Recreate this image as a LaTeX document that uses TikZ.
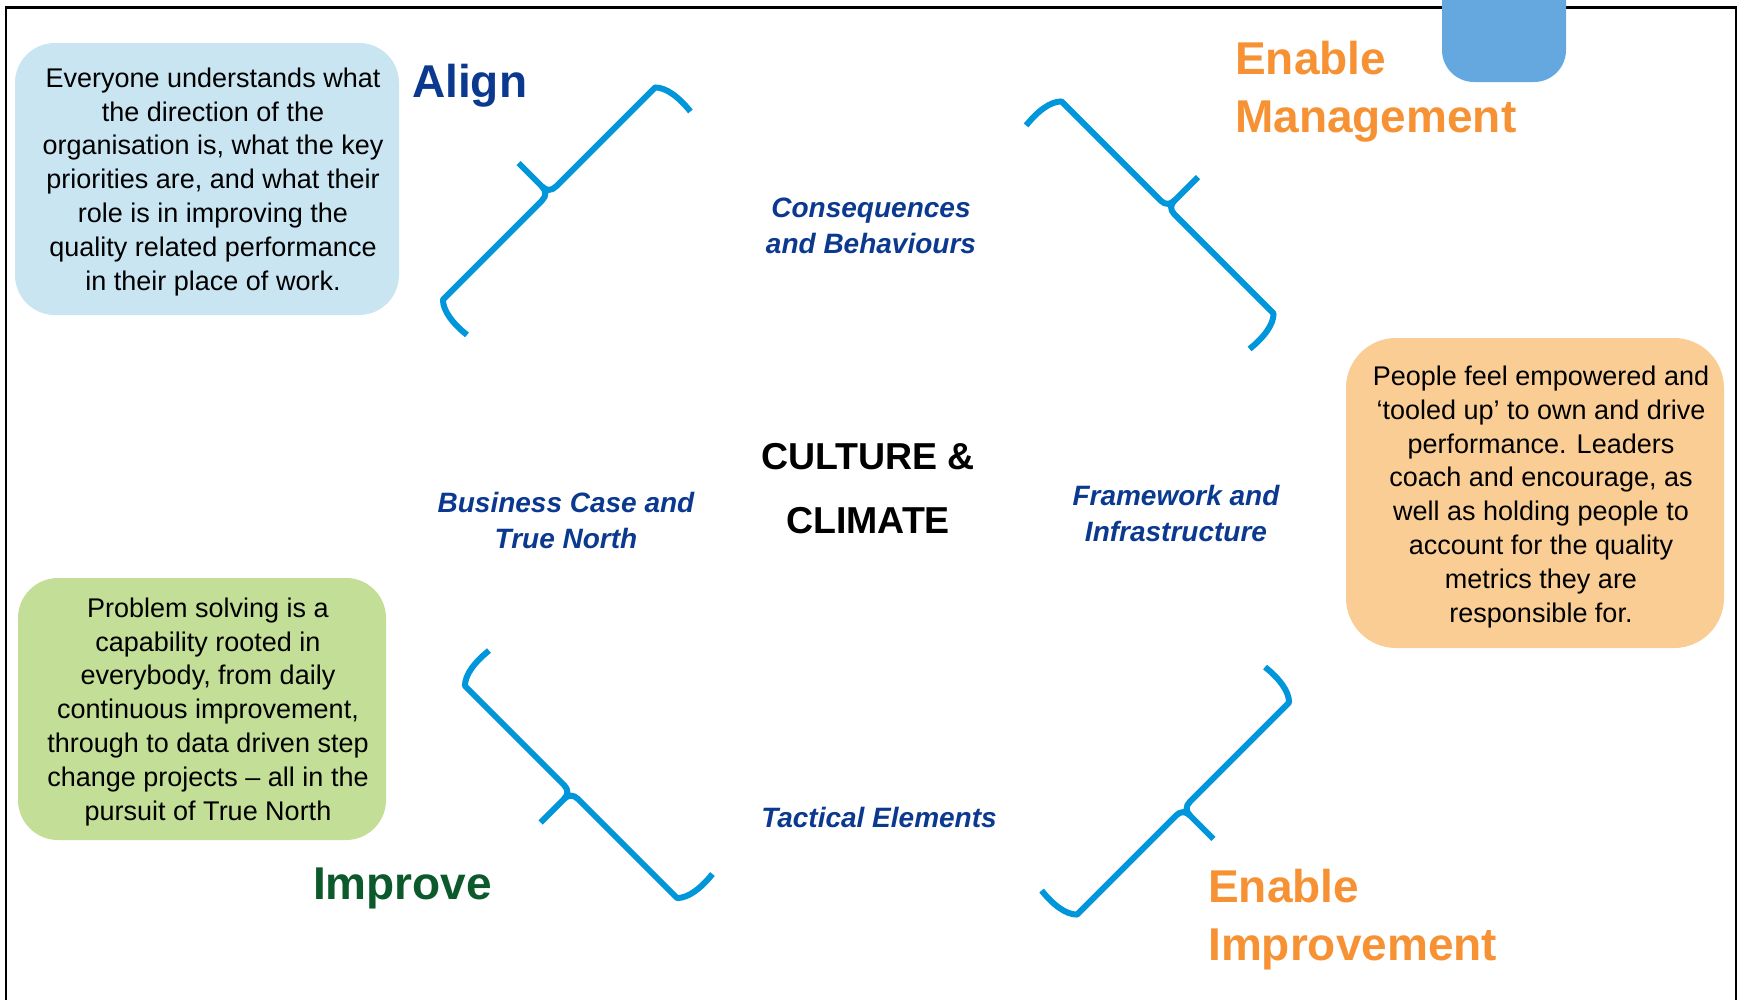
\documentclass[tikz,border=0pt]{standalone}
\usepackage{fontspec}
\setmainfont{Liberation Sans}
\definecolor{bracecol}{HTML}{0096DB}
\definecolor{navy}{HTML}{0B3990}
\definecolor{titleorange}{HTML}{F79234}
\definecolor{titlegreen}{HTML}{0C5A2B}
\definecolor{boxblue}{HTML}{C9E5F2}
\definecolor{boxorange}{HTML}{F9CD93}
\definecolor{boxgreen}{HTML}{C3DE96}
\definecolor{tabblue}{HTML}{65A8DF}
% one curly bracket, drawn about its midpoint; hooks point along local +y
\newcommand\qualitybrace[2]{%
  \begin{scope}[shift={#1}, x=1pt, y=1pt, rotate=#2]
    \draw[bracket] (-158,42) .. controls (-160,24) and (-158,8) .. (-150,0)
      -- (-10,0) .. controls (-3,0) and (0,-4) .. (0,-10) -- (0,-43);
    \draw[bracket] (158,42) .. controls (160,24) and (158,8) .. (150,0)
      -- (10,0) .. controls (3,0) and (0,-4) .. (0,-10);
  \end{scope}}
\begin{document}
\begin{tikzpicture}[x=1pt, y=-1pt,
  bracket/.style={draw=bracecol, line width=6pt, line join=round, line cap=butt},
  panel/.style={inner sep=0pt, outer sep=0pt},
  bodytext/.style={align=center, inner sep=0pt, font=\fontsize{27}{33.8}\selectfont},
  pillar/.style={align=center, inner sep=0pt, text=navy, font=\fontsize{28}{36}\selectfont\bfseries\itshape},
  headline/.style={align=left, inner sep=0pt, font=\fontsize{46}{57.5}\selectfont\bfseries},
  core/.style={align=center, inner sep=0pt, font=\fontsize{37.5}{64}\selectfont\bfseries}]
\useasboundingbox (0,0) rectangle (1738,999);
\fill[white] (0,0) rectangle (1738,999);

% frame
\draw[line width=2.5pt] (6,1010) -- (6,7.5) -- (1736,7.5) -- (1736,1010);
% tab at the top right
\fill[tabblue, rounded corners=32pt] (1442,-60) rectangle (1566,82);

% description panels
\node[panel, fill=boxblue, rounded corners=40pt, minimum width=384pt, minimum height=272pt] (alignBox) at (207,179) {};
\node[panel, fill=boxorange, rounded corners=50pt, minimum width=378pt, minimum height=310pt] (manageBox) at (1535,493) {};
\node[panel, fill=boxgreen, rounded corners=40pt, minimum width=368pt, minimum height=262pt] (improveBox) at (202,709) {};

% (base anchor = baseline of the last line)
\node[bodytext, anchor=base] (alignTxt) at (213,290) {Everyone understands what\\the direction of the\\organisation is, what the key\\priorities are, and what their\\role is in improving the\\quality related performance\\in their place of work.};
\node[bodytext, anchor=base] (manageTxt) at (1541,622) {People feel empowered and\\‘tooled up’ to own and drive\\performance. Leaders\\coach and encourage, as\\well as holding people to\\account for the quality\\metrics they are\\responsible for.};
\node[bodytext, anchor=base] (improveTxt) at (208,820) {Problem solving is a\\capability rooted in\\everybody, from daily\\continuous improvement,\\through to data driven step\\change projects – all in the\\pursuit of True North};

% headings
\node[headline, text=navy, anchor=base west] (alignHead) at (412,97) {Align};
\node[headline, text=titleorange, anchor=base west] (manageHead) at (1235,132) {Enable\\Management};
\node[headline, text=titleorange, anchor=base west] (enableHead) at (1208,960) {Enable\\Improvement};
\node[headline, text=titlegreen, anchor=base west] (improveHead) at (313,899) {Improve};

% pillar labels
\node[pillar, anchor=base] (consequences) at (871,253) {Consequences\\and Behaviours};
\node[pillar, anchor=base] (business) at (566,548) {Business Case and\\True North};
\node[pillar, anchor=base] (framework) at (1176,541) {Framework and\\Infrastructure};
\node[pillar, anchor=base] (tactical) at (879,827) {Tactical Elements};
\node[core, anchor=base] (culture) at (868,533) {CULTURE \&\\CLIMATE};

% brackets
\qualitybrace{(549,193.5)}{-135}
\qualitybrace{(1167.5,207.5)}{135}
\qualitybrace{(571,792)}{-45}
\qualitybrace{(1183,808.5)}{45}
\end{tikzpicture}
\end{document}
